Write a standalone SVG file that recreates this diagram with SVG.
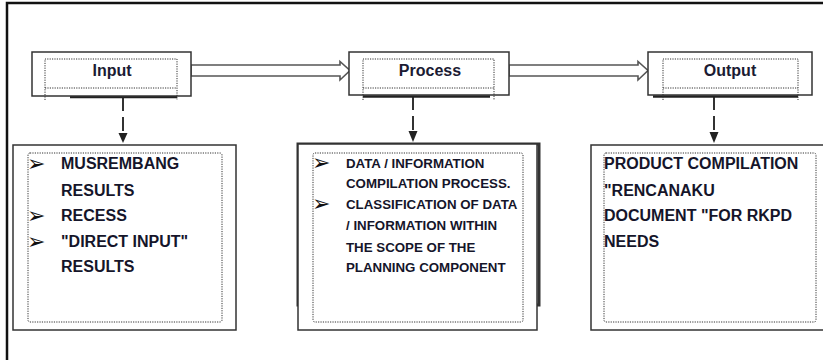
<svg xmlns="http://www.w3.org/2000/svg" width="823" height="360" viewBox="0 0 823 360">
<style>
.frame{fill:none;stroke:#111;stroke-width:2.5}
.box{fill:#fff;stroke:#333;stroke-width:1.5}
.dot{fill:none;stroke:#333;stroke-width:1;stroke-dasharray:1.2,1.2}
.hdr{font-family:"Liberation Sans",Arial,sans-serif;font-weight:bold;font-size:16px;fill:#1b1b33;text-anchor:middle}
.t16{font-family:"Liberation Sans",Arial,sans-serif;font-weight:bold;font-size:16px;fill:#15152a}
.t13{font-family:"Liberation Sans",Arial,sans-serif;font-weight:bold;font-size:13.3px;fill:#15152a}
.bul{font-family:"DejaVu Sans",sans-serif;font-size:22px;fill:#111}
.big{fill:#fff;stroke:#555;stroke-width:1.6;stroke-linejoin:miter}
.drop{stroke:#333;stroke-width:2;stroke-dasharray:14,6;fill:none}
.head{fill:#222}
.shadow{stroke:#222;stroke-width:2.5}
</style>
<rect x="0" y="0" width="823" height="360" fill="#fff"/>
<path class="frame" d="M7,362 V3 H826"/>

<g id="connectors">
  <path class="big" d="M191,65 H340 V61.5 L350,70.5 L340,80 V76 H191 Z"/>
  <path class="big" d="M509,65 H638 V61.5 L648,70.5 L638,80 V76 H509 Z"/>
  <path class="drop" d="M123,97 V133"/>
  <path class="head" d="M118.5,133 L127.5,133 L123,143 Z"/>
  <path class="drop" d="M413,96 V130"/>
  <path class="head" d="M408.5,131 L417.5,131 L413,142 Z"/>
  <path class="drop" d="M714,96 V131"/>
  <path class="head" d="M709.5,132 L718.5,132 L714,143 Z"/>
</g>

<g id="input-header">
  <line class="shadow" x1="70" y1="97" x2="177" y2="97"/>
  <rect class="box" x="32" y="52" width="159" height="44"/>
  <path class="dot" d="M45,100 V59 H177 V100 M45,88 H177"/>
  <text class="hdr" x="112" y="76">Input</text>
</g>

<g id="process-header">
  <line class="shadow" x1="363" y1="96.5" x2="490" y2="96.5"/>
  <rect class="box" x="349" y="52" width="160" height="43"/>
  <path class="dot" d="M363,100 V59 H494 V100 M363,88 H494"/>
  <text class="hdr" x="430" y="76">Process</text>
</g>

<g id="output-header">
  <line class="shadow" x1="653" y1="96.5" x2="798" y2="96.5"/>
  <rect class="box" x="648" y="52" width="164" height="43"/>
  <path class="dot" d="M663,100 V59 H798 V100 M663,88 H798"/>
  <text class="hdr" x="730" y="76">Output</text>
</g>

<g id="input-content">
  <rect class="box" x="13" y="145" width="223" height="185"/>
  <rect class="dot" x="28" y="153" width="194" height="169" rx="2"/>
  <text class="bul" x="27" y="171">➢</text>
  <text class="t16" x="61" y="169">MUSREMBANG</text>
  <text class="t16" x="61" y="196">RESULTS</text>
  <text class="bul" x="27" y="223">➢</text>
  <text class="t16" x="61" y="221">RECESS</text>
  <text class="bul" x="27" y="249">➢</text>
  <text class="t16" x="61" y="247">"DIRECT INPUT"</text>
  <text class="t16" x="61" y="272">RESULTS</text>
</g>

<g id="process-content">
  <rect x="298" y="144" width="241" height="161" fill="none" stroke="#333" stroke-width="3"/>
  <rect class="box" x="298" y="144" width="239" height="186"/>
  <rect class="dot" x="313" y="153" width="210" height="169" rx="2"/>
  <text class="bul" x="312" y="170">➢</text>
  <text class="t13" x="346" y="168">DATA / INFORMATION</text>
  <text class="t13" x="346" y="188">COMPILATION PROCESS.</text>
  <text class="bul" x="312" y="211">➢</text>
  <text class="t13" x="346" y="209">CLASSIFICATION OF DATA</text>
  <text class="t13" x="346" y="230">/ INFORMATION WITHIN</text>
  <text class="t13" x="346" y="252">THE SCOPE OF THE</text>
  <text class="t13" x="346" y="272">PLANNING COMPONENT</text>
</g>

<g id="output-content">
  <rect class="box" x="591" y="145" width="240" height="185"/>
  <rect class="dot" x="604" y="153" width="212" height="169" rx="2"/>
  <text class="t16" x="604" y="169">PRODUCT COMPILATION</text>
  <text class="t16" x="604" y="196">"RENCANAKU</text>
  <text class="t16" x="604" y="221">DOCUMENT "FOR RKPD</text>
  <text class="t16" x="604" y="247">NEEDS</text>
</g>
</svg>
